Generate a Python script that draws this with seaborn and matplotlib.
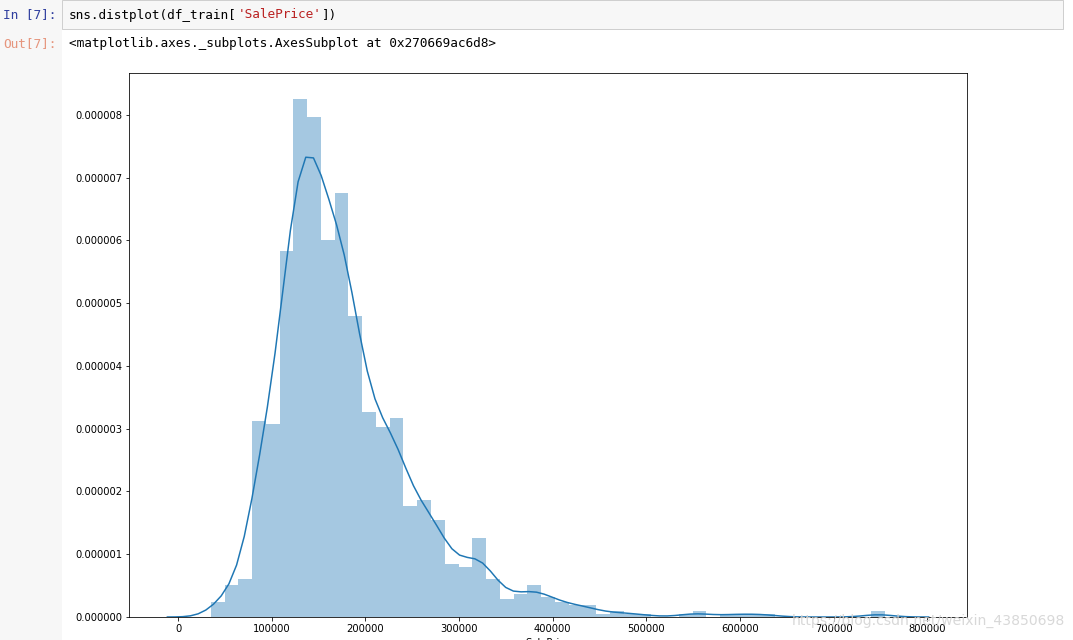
import numpy as np
import matplotlib
matplotlib.use('Agg')
import matplotlib.pyplot as plt
import matplotlib.ticker as mticker
from matplotlib.patches import Rectangle
import seaborn as sns

# SalePrice histogram: 49 equal bins from min to max
price_min = 34900
price_max = 755000
bin_counts = [5, 11, 13, 67, 66, 125, 177, 171, 129, 145,
              103, 70, 65, 68, 38, 40, 33, 18, 17, 27,
              13, 6, 8, 11, 7, 5, 4, 4, 1, 2,
              1, 1, 0, 0, 1, 2, 0, 1, 1, 1,
              1, 0, 0, 0, 0, 0, 0, 0, 2]

code_parts = [("sns.distplot(df_train[", "black"), ("'SalePrice'", "#BA2121"), ("])", "black")]
out_text = "<matplotlib.axes._subplots.AxesSubplot at 0x270669ac6d8>"
watermark = "https://blog.csdn.net/weixin_43850698"

# rebuild a sample: each value sits at the centre of its bin
edges = np.linspace(price_min, price_max, len(bin_counts) + 1)
centers = (edges[:-1] + edges[1:]) / 2
prices = np.repeat(centers, bin_counts)
binw = edges[1] - edges[0]

# old distplot kde: scott rule with min(std, iqr/1.349), 100 grid points, cut=3
# quartiles taken from the grouped histogram (linear inside a bin)
cum = np.concatenate([[0], np.cumsum(bin_counts)]) / np.sum(bin_counts)
q25, q75 = np.interp([0.25, 0.75], cum, edges)
sd = prices.std(ddof=1)
bw = 1.059 * min(sd, (q75 - q25) / 1.349) * len(prices) ** -0.2
cut = 3 + 0.5 * binw / bw

W, H, DPI = 1073, 640, 72
fig = plt.figure(figsize=(W / DPI, H / DPI), dpi=DPI)
fig.patch.set_facecolor('white')

# notebook chrome
fig.patches.append(Rectangle((0, 0), 62 / W, 1, transform=fig.transFigure,
                             facecolor='#f7f7f7', edgecolor='none', zorder=0))
fig.patches.append(Rectangle((62 / W, 1 - 29 / H), (1063 - 62) / W, 29 / H,
                             transform=fig.transFigure, facecolor='#f7f7f7',
                             edgecolor='#cfcfcf', linewidth=1, zorder=1))
mono = dict(family='DejaVu Sans Mono', size=12.7, va='center')
fig.text(3 / W, 1 - 15 / H, "In [7]:", color='#303F9F', **mono)
fig.text(3 / W, 1 - 44 / H, "Out[7]:", color='#e6957d', **mono)
x0 = 69
for txt, col in code_parts:
    fig.text(x0 / W, 1 - 15 / H, txt, color=col, **mono)
    x0 += len(txt) * 7.65
fig.text(69 / W, 1 - 44 / H, out_text, color='black', **mono)

ax = fig.add_axes([129.3 / W, (H - 617) / H, (966.7 - 129.3) / W, (617 - 73.3) / H])
sns.histplot(x=prices, bins=edges, stat='density', color='C0', alpha=0.4,
             linewidth=0, ax=ax)
sns.kdeplot(x=prices, bw_method=bw / sd, cut=cut, gridsize=100,
            color='C0', linewidth=1.5, ax=ax)

ax.yaxis.set_major_formatter(mticker.FuncFormatter(lambda v, _: f'{v:.6f}'))
ax.xaxis.set_major_formatter(mticker.FuncFormatter(lambda v, _: f'{v:.0f}'))
ax.set_ylabel('')
ax.set_xlabel('SalePrice')
ax.tick_params(labelsize=10)

fig.text(1065 / W, 1 - 621 / H, watermark, color='#d4d4d4', size=14,
         ha='right', va='center', alpha=0.9)

fig.savefig('out.png', dpi=DPI)
